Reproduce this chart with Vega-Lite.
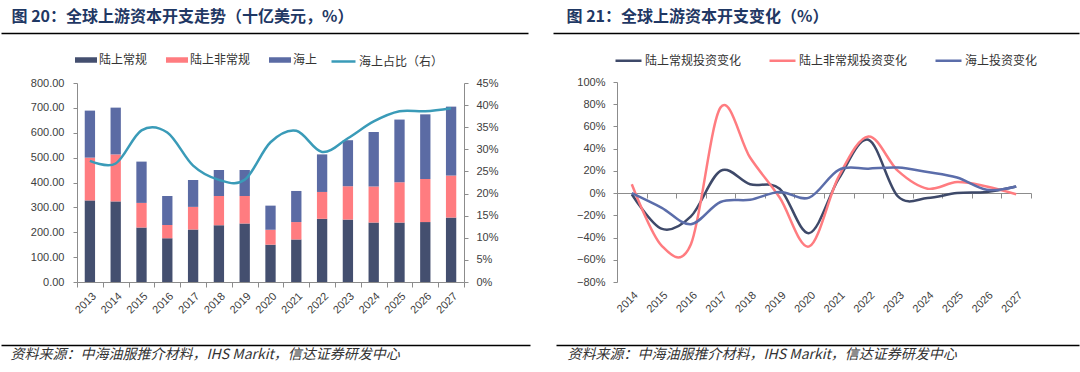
{
  "$schema": "https://vega.github.io/schema/vega-lite/v6.json",
  "width": 1080,
  "height": 372,
  "autosize": {"type": "fit", "contains": "padding"},
  "padding": 0,
  "background": "white",
  "config": {
    "view": {"stroke": null},
    "axis": {
      "grid": false,
      "labelFont": "Liberation Sans",
      "labelFontSize": 11,
      "labelColor": "#404040",
      "domainColor": "#8c8c8c",
      "tickColor": "#8c8c8c",
      "domainWidth": 1,
      "tickWidth": 1
    },
    "legend": {
      "labelFont": "Noto Sans CJK SC",
      "labelFontSize": 12,
      "labelColor": "#333333",
      "padding": 0,
      "labelOffset": 2,
      "symbolOffset": 0,
      "titlePadding": 0
    }
  },
  "datasets": {
    "capex": [
      {"year": "2013", "type": "陆上常规", "seg": 1, "value": 328},
      {"year": "2013", "type": "陆上非常规", "seg": 2, "value": 172},
      {"year": "2013", "type": "海上", "seg": 3, "value": 189},
      {"year": "2014", "type": "陆上常规", "seg": 1, "value": 324},
      {"year": "2014", "type": "陆上非常规", "seg": 2, "value": 189},
      {"year": "2014", "type": "海上", "seg": 3, "value": 188},
      {"year": "2015", "type": "陆上常规", "seg": 1, "value": 219},
      {"year": "2015", "type": "陆上非常规", "seg": 2, "value": 99},
      {"year": "2015", "type": "海上", "seg": 3, "value": 166},
      {"year": "2016", "type": "陆上常规", "seg": 1, "value": 176},
      {"year": "2016", "type": "陆上非常规", "seg": 2, "value": 53},
      {"year": "2016", "type": "海上", "seg": 3, "value": 117},
      {"year": "2017", "type": "陆上常规", "seg": 1, "value": 211},
      {"year": "2017", "type": "陆上非常规", "seg": 2, "value": 91},
      {"year": "2017", "type": "海上", "seg": 3, "value": 108},
      {"year": "2018", "type": "陆上常规", "seg": 1, "value": 228},
      {"year": "2018", "type": "陆上非常规", "seg": 2, "value": 118},
      {"year": "2018", "type": "海上", "seg": 3, "value": 104},
      {"year": "2019", "type": "陆上常规", "seg": 1, "value": 235},
      {"year": "2019", "type": "陆上非常规", "seg": 2, "value": 111},
      {"year": "2019", "type": "海上", "seg": 3, "value": 104},
      {"year": "2020", "type": "陆上常规", "seg": 1, "value": 150},
      {"year": "2020", "type": "陆上非常规", "seg": 2, "value": 60},
      {"year": "2020", "type": "海上", "seg": 3, "value": 97},
      {"year": "2021", "type": "陆上常规", "seg": 1, "value": 171},
      {"year": "2021", "type": "陆上非常规", "seg": 2, "value": 70},
      {"year": "2021", "type": "海上", "seg": 3, "value": 125},
      {"year": "2022", "type": "陆上常规", "seg": 1, "value": 254},
      {"year": "2022", "type": "陆上非常规", "seg": 2, "value": 108},
      {"year": "2022", "type": "海上", "seg": 3, "value": 151},
      {"year": "2023", "type": "陆上常规", "seg": 1, "value": 251},
      {"year": "2023", "type": "陆上非常规", "seg": 2, "value": 134},
      {"year": "2023", "type": "海上", "seg": 3, "value": 185},
      {"year": "2024", "type": "陆上常规", "seg": 1, "value": 239},
      {"year": "2024", "type": "陆上非常规", "seg": 2, "value": 145},
      {"year": "2024", "type": "海上", "seg": 3, "value": 219},
      {"year": "2025", "type": "陆上常规", "seg": 1, "value": 239},
      {"year": "2025", "type": "陆上非常规", "seg": 2, "value": 162},
      {"year": "2025", "type": "海上", "seg": 3, "value": 252},
      {"year": "2026", "type": "陆上常规", "seg": 1, "value": 241},
      {"year": "2026", "type": "陆上非常规", "seg": 2, "value": 173},
      {"year": "2026", "type": "海上", "seg": 3, "value": 260},
      {"year": "2027", "type": "陆上常规", "seg": 1, "value": 259},
      {"year": "2027", "type": "陆上非常规", "seg": 2, "value": 169},
      {"year": "2027", "type": "海上", "seg": 3, "value": 277}
    ],
    "share": [
      {"year": "2013", "share": 0.274},
      {"year": "2014", "share": 0.268},
      {"year": "2015", "share": 0.343},
      {"year": "2016", "share": 0.338},
      {"year": "2017", "share": 0.263},
      {"year": "2018", "share": 0.231},
      {"year": "2019", "share": 0.231},
      {"year": "2020", "share": 0.316},
      {"year": "2021", "share": 0.342},
      {"year": "2022", "share": 0.294},
      {"year": "2023", "share": 0.325},
      {"year": "2024", "share": 0.363},
      {"year": "2025", "share": 0.386},
      {"year": "2026", "share": 0.386},
      {"year": "2027", "share": 0.393}
    ],
    "change": [
      {"year": "2014", "type": "陆上常规投资变化", "value": -0.01},
      {"year": "2015", "type": "陆上常规投资变化", "value": -0.32},
      {"year": "2016", "type": "陆上常规投资变化", "value": -0.21},
      {"year": "2017", "type": "陆上常规投资变化", "value": 0.20},
      {"year": "2018", "type": "陆上常规投资变化", "value": 0.08},
      {"year": "2019", "type": "陆上常规投资变化", "value": 0.04},
      {"year": "2020", "type": "陆上常规投资变化", "value": -0.36},
      {"year": "2021", "type": "陆上常规投资变化", "value": 0.13},
      {"year": "2022", "type": "陆上常规投资变化", "value": 0.48},
      {"year": "2023", "type": "陆上常规投资变化", "value": -0.03},
      {"year": "2024", "type": "陆上常规投资变化", "value": -0.045},
      {"year": "2025", "type": "陆上常规投资变化", "value": 0.0},
      {"year": "2026", "type": "陆上常规投资变化", "value": 0.01},
      {"year": "2027", "type": "陆上常规投资变化", "value": 0.06},
      {"year": "2014", "type": "陆上非常规投资变化", "value": 0.08},
      {"year": "2015", "type": "陆上非常规投资变化", "value": -0.47},
      {"year": "2016", "type": "陆上非常规投资变化", "value": -0.46},
      {"year": "2017", "type": "陆上非常规投资变化", "value": 0.77},
      {"year": "2018", "type": "陆上非常规投资变化", "value": 0.32},
      {"year": "2019", "type": "陆上非常规投资变化", "value": -0.04},
      {"year": "2020", "type": "陆上非常规投资变化", "value": -0.48},
      {"year": "2021", "type": "陆上非常规投资变化", "value": 0.15},
      {"year": "2022", "type": "陆上非常规投资变化", "value": 0.51},
      {"year": "2023", "type": "陆上非常规投资变化", "value": 0.20},
      {"year": "2024", "type": "陆上非常规投资变化", "value": 0.04},
      {"year": "2025", "type": "陆上非常规投资变化", "value": 0.10},
      {"year": "2026", "type": "陆上非常规投资变化", "value": 0.06},
      {"year": "2027", "type": "陆上非常规投资变化", "value": -0.01},
      {"year": "2014", "type": "海上投资变化", "value": 0.0},
      {"year": "2015", "type": "海上投资变化", "value": -0.13},
      {"year": "2016", "type": "海上投资变化", "value": -0.28},
      {"year": "2017", "type": "海上投资变化", "value": -0.08},
      {"year": "2018", "type": "海上投资变化", "value": -0.06},
      {"year": "2019", "type": "海上投资变化", "value": 0.01},
      {"year": "2020", "type": "海上投资变化", "value": -0.04},
      {"year": "2021", "type": "海上投资变化", "value": 0.21},
      {"year": "2022", "type": "海上投资变化", "value": 0.22},
      {"year": "2023", "type": "海上投资变化", "value": 0.23},
      {"year": "2024", "type": "海上投资变化", "value": 0.19},
      {"year": "2025", "type": "海上投资变化", "value": 0.14},
      {"year": "2026", "type": "海上投资变化", "value": 0.03},
      {"year": "2027", "type": "海上投资变化", "value": 0.06}
    ]
  },
  "layer": [
    {
      "data": {"name": "capex"},
      "mark": {"type": "bar", "width": {"band": 0.4}},
      "encoding": {
        "x": {
          "field": "year", "type": "ordinal",
          "scale": {"type": "band", "range": [77, 464], "paddingInner": 0, "paddingOuter": 0},
          "axis": {"orient": "bottom", "offset": -90, "title": null, "labelAngle": -45, "tickBand": "extent", "tickSize": 5, "labelPadding": 3}
        },
        "y": {
          "field": "value", "type": "quantitative", "stack": "zero",
          "scale": {"domain": [0, 800], "range": [282, 83], "nice": false},
          "axis": {"orient": "left", "offset": -77, "title": null, "values": [0, 100, 200, 300, 400, 500, 600, 700, 800], "format": ".2f", "tickSize": 4, "labelPadding": 9}
        },
        "fill": {
          "field": "type", "type": "nominal",
          "scale": {"domain": ["陆上常规", "陆上非常规", "海上"], "range": ["#444f6f", "#ff7c80", "#5b6ba4"]},
          "legend": {"orient": "none", "legendX": 75, "legendY": 49, "direction": "horizontal", "title": null, "symbolType": "M-1,-0.25H1V0.25H-1Z", "symbolSize": 484, "symbolStrokeWidth": 0, "columnPadding": 18}
        },
        "order": {"field": "seg", "type": "quantitative"}
      }
    },
    {
      "data": {"name": "share"},
      "mark": {"type": "line", "interpolate": "cardinal", "strokeWidth": 2.5},
      "encoding": {
        "x": {
          "field": "year", "type": "ordinal", "bandPosition": 0.5,
          "scale": {"type": "band", "range": [77, 464], "paddingInner": 0, "paddingOuter": 0},
          "axis": null
        },
        "y": {
          "field": "share", "type": "quantitative",
          "scale": {"domain": [0, 0.45], "range": [282, 83], "nice": false},
          "axis": {"orient": "right", "offset": -616, "title": null, "values": [0, 0.05, 0.1, 0.15, 0.2, 0.25, 0.3, 0.35, 0.4, 0.45], "format": ".0%", "tickSize": 4, "labelPadding": 8}
        },
        "stroke": {
          "datum": "海上占比（右）", "type": "nominal",
          "scale": {"range": ["#3a9bb8"]},
          "legend": {"orient": "none", "legendX": 330, "legendY": 48, "direction": "horizontal", "title": null, "symbolType": "stroke", "symbolSize": 576, "symbolStrokeWidth": 2.5}
        }
      }
    },
    {
      "data": {"name": "change"},
      "mark": {"type": "line", "interpolate": "cardinal", "strokeWidth": 2.5},
      "encoding": {
        "x": {
          "field": "year", "type": "ordinal", "bandPosition": 0.5,
          "scale": {"type": "band", "range": [617, 1031], "paddingInner": 0, "paddingOuter": 0},
          "axis": {"orient": "bottom", "offset": -179, "title": null, "labelAngle": -45, "tickBand": "extent", "tickSize": 5, "labelPadding": 91}
        },
        "y": {
          "field": "value", "type": "quantitative",
          "scale": {"domain": [-0.8, 1], "range": [282, 82], "nice": false},
          "axis": {"orient": "left", "offset": -617, "title": null, "values": [-0.8, -0.6, -0.4, -0.2, 0, 0.2, 0.4, 0.6, 0.8, 1], "format": ".0%", "tickSize": 4, "labelPadding": 8}
        },
        "stroke": {
          "field": "type", "type": "nominal",
          "scale": {"domain": ["陆上常规投资变化", "陆上非常规投资变化", "海上投资变化"], "range": ["#3e4969", "#ff7c80", "#5b6daa"]},
          "legend": {"orient": "none", "legendX": 614, "legendY": 46, "direction": "horizontal", "title": null, "symbolType": "stroke", "symbolSize": 676, "symbolStrokeWidth": 2.5, "columnPadding": 22}
        }
      }
    },
    {
      "data": {"name": "share"},
      "mark": {"type": "point", "opacity": 0},
      "encoding": {
        "x": {
          "field": "year", "type": "ordinal",
          "scale": {"type": "point", "range": [1, 528]},
          "axis": {"orient": "top", "offset": -33, "domainColor": "#000000", "domainWidth": 1.5, "ticks": false, "labels": false, "title": "图 20：全球上游资本开支走势（十亿美元，%）", "titleX": 11, "titleAlign": "left", "titlePadding": 9, "titleFont": "Noto Sans CJK SC", "titleFontSize": 16, "titleFontWeight": "bold", "titleColor": "#1f3864"}
        }
      }
    },
    {
      "data": {"name": "share"},
      "mark": {"type": "point", "opacity": 0},
      "encoding": {
        "x": {
          "field": "year", "type": "ordinal",
          "scale": {"type": "point", "range": [553, 1079]},
          "axis": {"orient": "top", "offset": -33, "domainColor": "#000000", "domainWidth": 1.5, "ticks": false, "labels": false, "title": "图 21：全球上游资本开支变化（%）", "titleX": 566, "titleAlign": "left", "titlePadding": 9, "titleFont": "Noto Sans CJK SC", "titleFontSize": 16, "titleFontWeight": "bold", "titleColor": "#1f3864"}
        }
      }
    },
    {
      "data": {"name": "share"},
      "mark": {"type": "point", "opacity": 0},
      "encoding": {
        "x": {
          "field": "year", "type": "ordinal",
          "scale": {"type": "point", "range": [1, 530]},
          "axis": {"orient": "bottom", "offset": -27, "domainColor": "#000000", "domainWidth": 1.5, "ticks": false, "labels": false, "title": "资料来源：中海油服推介材料，IHS Markit，信达证券研发中心", "titleX": 10, "titleAlign": "left", "titlePadding": 2, "titleFont": "Noto Sans CJK SC", "titleFontSize": 14, "titleFontWeight": "normal", "titleFontStyle": "italic", "titleColor": "#333333"}
        }
      }
    },
    {
      "data": {"name": "share"},
      "mark": {"type": "point", "opacity": 0},
      "encoding": {
        "x": {
          "field": "year", "type": "ordinal",
          "scale": {"type": "point", "range": [556, 1079]},
          "axis": {"orient": "bottom", "offset": -27, "domainColor": "#000000", "domainWidth": 1.5, "ticks": false, "labels": false, "title": "资料来源：中海油服推介材料，IHS Markit，信达证券研发中心", "titleX": 567, "titleAlign": "left", "titlePadding": 2, "titleFont": "Noto Sans CJK SC", "titleFontSize": 14, "titleFontWeight": "normal", "titleFontStyle": "italic", "titleColor": "#333333"}
        }
      }
    }
  ],
  "resolve": {
    "scale": {"x": "independent", "y": "independent", "fill": "independent", "stroke": "independent"},
    "axis": {"x": "independent", "y": "independent"},
    "legend": {"fill": "independent", "stroke": "independent"}
  }
}
